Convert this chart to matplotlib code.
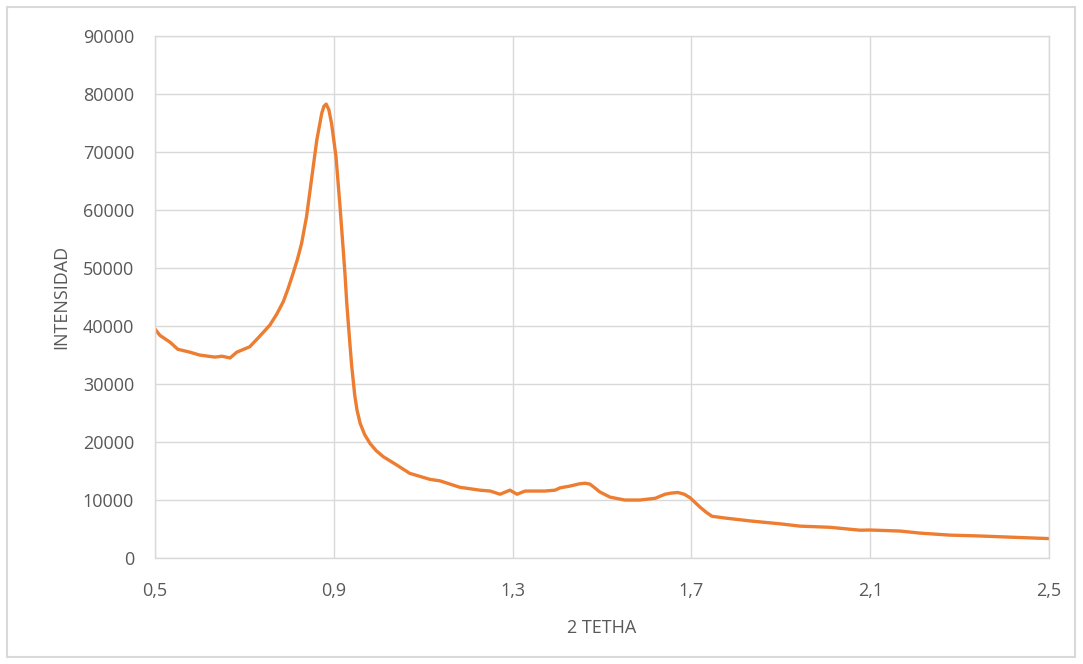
import matplotlib.pyplot as plt
from matplotlib.ticker import FuncFormatter, FixedLocator, MultipleLocator
from matplotlib.patches import Rectangle

# 2-theta vs intensity
tetha = [0.500, 0.511, 0.534, 0.551, 0.578, 0.600, 0.634, 0.650, 0.668, 0.683,
         0.712, 0.735, 0.757, 0.772, 0.787, 0.798, 0.809, 0.819, 0.828, 0.839,
         0.851, 0.862, 0.873, 0.878, 0.883, 0.889, 0.895, 0.905, 0.914, 0.925,
         0.929, 0.936, 0.940, 0.947, 0.952, 0.959, 0.969, 0.981, 0.995, 1.011,
         1.041, 1.070, 1.115, 1.138, 1.182, 1.227, 1.250, 1.272, 1.294, 1.310,
         1.328, 1.372, 1.395, 1.406, 1.428, 1.450, 1.462, 1.473, 1.484, 1.495,
         1.518, 1.551, 1.585, 1.619, 1.641, 1.655, 1.670, 1.684, 1.697, 1.708,
         1.719, 1.733, 1.746, 1.775, 1.831, 1.898, 1.943, 2.010, 2.077, 2.100,
         2.167, 2.211, 2.278, 2.346, 2.413, 2.500]
intensidad = [39500, 38400, 37200, 36000, 35500, 35000, 34650, 34800, 34500, 35500,
              36430, 38300, 40170, 42000, 44200, 46500, 49100, 51600, 54260, 58840,
              65740, 72070, 76670, 77900, 78280, 77300, 74950, 69200, 60570, 49100,
              44000, 37000, 33200, 28000, 25500, 23220, 21300, 19770, 18500, 17460,
              16030, 14600, 13570, 13300, 12200, 11700, 11550, 11000, 11700, 11000,
              11550, 11550, 11700, 12100, 12400, 12800, 12900, 12750, 12100, 11400,
              10500, 10000, 10000, 10300, 11000, 11200, 11300, 11000, 10400, 9600,
              8800, 7900, 7200, 6900, 6400, 5900, 5500, 5300, 4800, 4830,
              4650, 4300, 3950, 3800, 3600, 3350]
x_ticks = [0.5, 0.9, 1.3, 1.7, 2.1, 2.5]

grid_c = '#d9d9d9'
text_c = '#595959'
plt.rcParams['font.family'] = ['Open Sans', 'DejaVu Sans']

fig = plt.figure(figsize=(10.83, 6.64), dpi=100)
ax = fig.add_axes([0.1431, 0.1596, 0.8255, 0.786])

ax.plot(tetha, intensidad, color='#ED7D31', linewidth=2.4,
        solid_capstyle='round', solid_joinstyle='round')

ax.set_xlim(0.5, 2.5)
ax.set_ylim(0, 90000)
ax.xaxis.set_major_locator(FixedLocator(x_ticks))
ax.yaxis.set_major_locator(MultipleLocator(10000))
ax.xaxis.set_major_formatter(FuncFormatter(lambda v, p: f'{v:.1f}'.replace('.', ',')))
ax.yaxis.set_major_formatter(FuncFormatter(lambda v, p: f'{int(v)}'))

ax.grid(True, color=grid_c, linewidth=1.0)
ax.set_axisbelow(True)
for s in ax.spines.values():
    s.set_color(grid_c)
    s.set_linewidth(1.0)
ax.tick_params(axis='both', length=0, labelsize=13, labelcolor=text_c)
ax.tick_params(axis='y', pad=15)
ax.tick_params(axis='x', pad=17)

ax.set_xlabel('2 TETHA', fontsize=13, color=text_c, labelpad=14)
ax.set_ylabel('INTENSIDAD', fontsize=13, color=text_c, labelpad=9)

fig.patches.append(Rectangle((7 / 1083, 7 / 664), 1068 / 1083, 650 / 664,
                             transform=fig.transFigure, fill=False,
                             edgecolor=grid_c, linewidth=1.5))

fig.savefig('out.png', dpi=100)
